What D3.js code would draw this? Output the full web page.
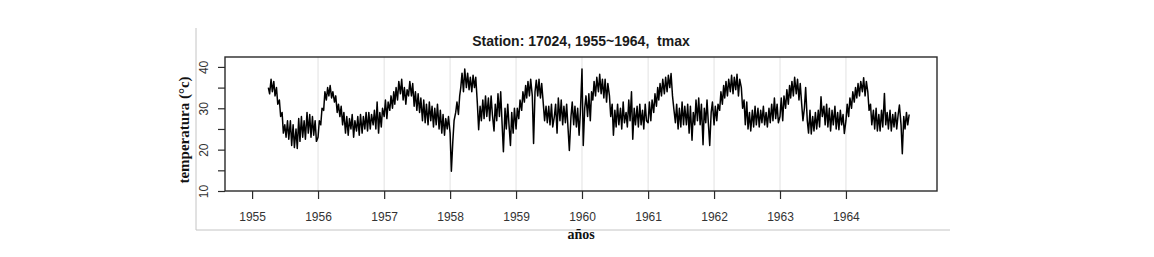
<!DOCTYPE html>
<html>
<head>
<meta charset="utf-8">
<script src="https://cdn.jsdelivr.net/npm/d3@7"></script>
<style>
  body { margin: 0; background: #fff; }
  svg { display: block; }
</style>
</head>
<body>
<svg id="chart"></svg>
<script>
const width = 1154;
const height = 257;

const title = 'Station: 17024, 1955~1964,  tmax';
const xTitle = 'años';
const yTitle = 'temperatura (°c)';

const tickYears = [1955, 1956, 1957, 1958, 1959, 1960, 1961, 1962, 1963, 1964];
const gridYears = [1956, 1957, 1958, 1959, 1960, 1961, 1962, 1963, 1964];
const yTicks = [10, 20, 30, 40];
const yMinor = [15, 25, 35];

// tmax, 4 readings per month (days 1, 8, 16, 23)
const startMonth1955 = 3; // series starts in April 1955
const t1955 = [
  35, 33.5, 37, 34,  36.5, 33, 35, 31,  32, 28, 29, 24,
  26, 23, 27, 22.5,  27, 21, 26, 20.5,  25, 20.3, 27.5, 22,
  28, 23, 27, 22.5,  29, 24, 28.5, 23,  28, 23.5, 27, 22
];
const t1956 = [
  23, 27, 26, 30,  29.5, 34, 32, 35,  33, 35.5, 32.5, 34,
  31.5, 33, 29, 31,  28, 30.5, 26, 29,  24, 28, 23.5, 27.5,
  25, 28.5, 23, 27,  24.5, 28, 23.5, 28.5,  24, 28, 25, 29,
  24.5, 29, 25, 28.5,  26, 29.5, 25, 31.5,  24, 29, 25.5, 30
];
const t1957 = [
  28, 32, 27.5, 31.5,  29.5, 33, 30, 34,  31, 35, 32, 36.5,
  33.5, 37, 32, 35,  31, 34.5, 33, 36.5,  33, 36, 30.5, 34,
  29.5, 33.5, 29, 32.5,  27, 32, 26.5, 31,  26, 31.5, 27, 30.5,
  25.5, 30, 26, 31,  25, 29.5, 24, 28.5,  23.5, 27.5, 25, 28
];
const t1958 = [
  24, 14.8, 22, 27,  29, 31.5, 28.5, 33,  35, 38.5, 34, 39.5,
  35, 38.5, 34.5, 37.5,  34, 38, 35, 37.5,  31, 24.8, 30.5, 27,
  32, 27.5, 33, 28,  32.5, 27, 33, 28.5,  24.5, 31, 27, 33.5,
  28, 34, 26, 19.5,  30, 25, 31, 26,  21, 29, 24, 30
];
const t1959 = [
  25, 30, 27.5, 32,  29.5, 34, 31.5, 35.5,  32.5, 36.5, 33, 37,
  33, 21.5, 34, 36.8,  33, 37, 32.5, 36,  31, 27, 30.5, 26.5,
  30.5, 26, 31, 25.5,  28, 31, 24, 32.5,  27, 32, 26, 30.5,
  26.5, 31, 25, 19.8,  28, 31.5, 26, 30.5,  25.5, 30, 23.5, 29
];
const t1960 = [
  39.5, 21, 30, 33,  28, 33.5, 27, 34,  32, 36.5, 33, 37.5,
  34, 38.2, 33.5, 37,  32.5, 37, 31.5, 36,  33, 28, 31, 23.5,
  29.5, 25.5, 31, 26,  30, 25, 31.5, 26.5,  29, 25.5, 32, 27,
  34, 22.5, 30, 26,  30.5, 25.5, 31, 26,  29.5, 25, 31, 27
];
const t1961 = [
  26.5, 31.5, 27, 32,  29, 33.5, 30.5, 35,  32, 36, 33, 37,
  33.5, 37.5, 34, 38,  35, 38.4, 33, 30,  26.5, 31, 25, 30,
  25.5, 31.5, 26, 30.5,  26, 31, 24, 30.5,  22.3, 29, 26, 32,
  27, 32.5, 26, 31,  21.2, 30, 26.5, 32,  26, 21, 29, 31.5
];
const t1962 = [
  26, 30.5, 27, 31,  29.5, 34, 31, 35.5,  32.5, 36.5, 33, 37,
  34, 38, 33.5, 37.5,  34.5, 38.2, 33, 37,  35, 30, 32, 26,
  31.5, 25, 29, 24.5,  29.5, 25.5, 30.5, 26,  30, 25.5, 29.5, 26.5,
  30.5, 26, 29, 25.5,  30, 26.5, 31, 27,  32.5, 27.5, 31, 26.5
];
const t1963 = [
  28, 32.5, 27, 33,  30, 34.5, 31, 35.5,  32.5, 36.5, 33, 37.5,
  33.5, 37, 32, 36,  31, 27, 30, 35,  27, 24, 29.5, 23.8,
  28, 24.5, 29, 25,  29.5, 25.5, 32.8, 28,  30.5, 26, 31, 25.5,
  30, 24.5, 29.5, 26,  30.5, 25, 29, 24.8,  29.5, 26, 28.5, 23.9
];
const t1964 = [
  27, 31, 28, 32.5,  30, 34, 31.5, 35,  32.5, 36, 33, 36.5,
  34, 37.4, 33, 36.5,  34, 29.5, 31, 26,  29.5, 25, 30, 24.5,
  28.5, 24.5, 29.5, 25.5,  33.6, 26, 29, 25,  29.5, 24.5, 28.5, 25.5,
  29, 25, 28.5, 30.8,  26, 19, 28, 25,  29, 26, 28.5
];

const yearly = [
  [1955, t1955], [1956, t1956], [1957, t1957], [1958, t1958], [1959, t1959],
  [1960, t1960], [1961, t1961], [1962, t1962], [1963, t1963], [1964, t1964]
];
const readingDays = [1, 8, 16, 23];

const series = [];
yearly.forEach(([yr, vals]) => {
  const m0 = yr === 1955 ? startMonth1955 : 0;
  vals.forEach((v, i) => {
    series.push({ date: new Date(yr, m0 + Math.floor(i / 4), readingDays[i % 4]), value: v });
  });
});

const box = { left: 225, right: 937, top: 57, bottom: 191 };

const svg = d3.select('#chart')
  .attr('width', width)
  .attr('height', height);

const x = d3.scaleTime()
  .domain([new Date(1954, 7, 4), new Date(1965, 4, 19)])
  .range([box.left, box.right]);
const y = d3.scaleLinear()
  .domain([10, 42.4])
  .range([box.bottom, box.top]);

// outer light frame
svg.append('path')
  .attr('d', `M196,28 V230 H950`)
  .attr('fill', 'none')
  .attr('stroke', '#c4c4c4')
  .attr('stroke-width', 1);

// grid lines
svg.append('g').selectAll('line')
  .data(gridYears).enter()
  .append('line')
  .attr('x1', d => x(new Date(d, 0, 1)))
  .attr('x2', d => x(new Date(d, 0, 1)))
  .attr('y1', box.top)
  .attr('y2', box.bottom)
  .attr('stroke', '#e2e2e2')
  .attr('stroke-width', 1);

// the series
svg.append('path')
  .datum(series)
  .attr('fill', 'none')
  .attr('stroke', '#000')
  .attr('stroke-width', 1.5)
  .attr('stroke-linejoin', 'round')
  .attr('d', d3.line().x(d => x(d.date)).y(d => y(d.value)));

// box
svg.append('rect')
  .attr('x', box.left)
  .attr('y', box.top)
  .attr('width', box.right - box.left)
  .attr('height', box.bottom - box.top)
  .attr('fill', 'none')
  .attr('stroke', '#2a2a2a')
  .attr('stroke-width', 1.4);

// x axis
const xAxis = svg.append('g')
  .attr('transform', `translate(0, ${box.bottom})`)
  .call(d3.axisBottom(x)
    .tickValues(tickYears.map(d => new Date(d, 0, 1)))
    .tickFormat(d3.timeFormat('%Y'))
    .tickSize(8)
    .tickPadding(13));
xAxis.select('.domain').remove();
xAxis.selectAll('line').attr('stroke', '#2a2a2a').attr('stroke-width', 1.2);
xAxis.selectAll('text')
  .attr('fill', '#333')
  .style('font-family', '"Liberation Sans", Arial, sans-serif')
  .style('font-size', '12px');

// y axis
const yAxis = svg.append('g')
  .attr('transform', `translate(${box.left}, 0)`)
  .call(d3.axisLeft(y)
    .tickValues(yTicks.concat(yMinor))
    .tickFormat(d => yTicks.includes(d) ? d : '')
    .tickSize(7)
    .tickPadding(0));
yAxis.select('.domain').remove();
yAxis.selectAll('line').attr('stroke', '#2a2a2a').attr('stroke-width', 1.2);
yAxis.selectAll('text')
  .attr('x', null).attr('dy', null)
  .attr('text-anchor', 'middle')
  .attr('transform', 'translate(-17, 0) rotate(-90)')
  .attr('fill', '#333')
  .style('font-family', '"Liberation Sans", Arial, sans-serif')
  .style('font-size', '12px');

// titles
svg.append('text')
  .attr('x', 581)
  .attr('y', 46)
  .attr('text-anchor', 'middle')
  .attr('fill', '#1a1a1a')
  .style('white-space', 'pre')
  .style('font-family', '"Liberation Sans", Arial, sans-serif')
  .style('font-weight', 'bold')
  .style('font-size', '14px')
  .text(title);

svg.append('text')
  .attr('x', 581)
  .attr('y', 239)
  .attr('text-anchor', 'middle')
  .attr('fill', '#111')
  .style('font-family', '"Liberation Serif", "Times New Roman", serif')
  .style('font-weight', 'bold')
  .style('font-size', '14px')
  .text(xTitle);

svg.append('text')
  .attr('transform', 'translate(189, 130) rotate(-90)')
  .attr('text-anchor', 'middle')
  .attr('fill', '#111')
  .style('font-family', '"Liberation Serif", "Times New Roman", serif')
  .style('font-weight', 'bold')
  .style('font-size', '15px')
  .text(yTitle);
</script>
</body>
</html>
